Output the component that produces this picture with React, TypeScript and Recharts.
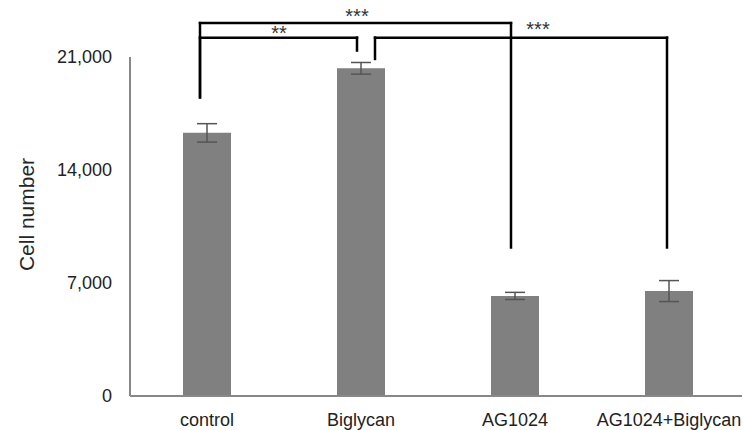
import { BarChart, Bar, XAxis, YAxis, ErrorBar, ReferenceLine } from "recharts";

const groups = ["control", "Biglycan", "AG1024", "AG1024+Biglycan"];
const cellCounts = [16300, 20300, 6200, 6500];
const cellErrors = [570, 360, 220, 650];
const yTicks = [0, 7000, 14000, 21000];

// significance brackets, heights in cell-number units
const brackets = [
    { from: "control", to: "AG1024", top: 23100, fromEnd: 18500, toEnd: 9200, mark: "***" },
    { from: "control", to: "Biglycan", top: 22200, fromEnd: 18500, toEnd: 21400, mark: "**" },
    { from: "Biglycan", to: "AG1024+Biglycan", top: 22200, fromEnd: 20880, toEnd: 9200, mark: "***" },
];
// pixel nudges: the legs in the original are not exactly on the bar centres
const bracketNudge = [
    { fromDx: -7, toDx: -4, labelDx: -4, labelOffset: 0 },
    { fromDx: -7, toDx: -4, labelDx: -5, labelOffset: -2 },
    { fromDx: 14, toDx: -2, labelDx: 23, labelOffset: 2 },
];

const FONT = "'Liberation Sans', Arial, sans-serif";

const chartData = groups.map((g, i) => ({ group: g, cells: cellCounts[i], err: cellErrors[i] }));

const bracketLine = (dx1: number, dx2: number) => (p: any) => (
    <line
        x1={p.x1 + dx1}
        y1={p.y1}
        x2={p.x2 + dx2}
        y2={p.y2}
        stroke="#000"
        strokeWidth={2.5}
        strokeLinecap="square"
    />
);

function renderBracket(b: (typeof brackets)[number], i: number) {
    const n = bracketNudge[i];
    return [
        <ReferenceLine
            key={`l${i}`}
            ifOverflow="visible"
            segment={[{ x: b.from, y: b.fromEnd }, { x: b.from, y: b.top }]}
            shape={bracketLine(n.fromDx, n.fromDx)}
        />,
        <ReferenceLine
            key={`h${i}`}
            ifOverflow="visible"
            segment={[{ x: b.from, y: b.top }, { x: b.to, y: b.top }]}
            shape={bracketLine(n.fromDx, n.toDx)}
            label={{
                content: (lp: any) => {
                    const vb = lp.viewBox;
                    return (
                        <text
                            x={vb.x + vb.width / 2 + n.labelDx}
                            y={vb.y - n.labelOffset}
                            textAnchor="middle"
                            fontSize={20}
                            fontFamily={FONT}
                            fill="#333"
                        >
                            {b.mark}
                        </text>
                    );
                },
            }}
        />,
        <ReferenceLine
            key={`r${i}`}
            ifOverflow="visible"
            segment={[{ x: b.to, y: b.top }, { x: b.to, y: b.toEnd }]}
            shape={bracketLine(n.toDx, n.toDx)}
        />,
    ];
}

export default function App() {
    return (
        <div style={{ position: "absolute", left: 0, top: 0, width: 742, height: 430, overflow: "hidden", background: "#fff" }}>
            <BarChart width={750} height={430} data={chartData} margin={{ top: 57, right: 4, bottom: 0, left: 0 }}>
                <XAxis
                    dataKey="group"
                    height={34}
                    interval={0}
                    tickLine={false}
                    tickMargin={11}
                    axisLine={{ stroke: "#888", strokeWidth: 2 }}
                    tick={{ fontSize: 18, fill: "#222", fontFamily: FONT }}
                />
                <YAxis
                    width={130}
                    domain={[0, 21000]}
                    ticks={yTicks}
                    tickLine={false}
                    tickMargin={12}
                    axisLine={{ stroke: "#888", strokeWidth: 2 }}
                    tick={{ fontSize: 18, fill: "#222", fontFamily: FONT }}
                    tickFormatter={(v) => v.toLocaleString("en-US")}
                    label={{
                        content: (lp: any) => {
                            const vb = lp.viewBox;
                            const x = vb.x + 26;
                            const y = vb.y + vb.height / 2 - 12;
                            return (
                                <text
                                    x={x}
                                    y={y}
                                    transform={`rotate(-90, ${x}, ${y})`}
                                    textAnchor="middle"
                                    dominantBaseline="central"
                                    fontSize={21}
                                    fontFamily={FONT}
                                    fill="#262626"
                                >
                                    Cell number
                                </text>
                            );
                        },
                    }}
                />
                <Bar dataKey="cells" fill="#808080" barSize={48} isAnimationActive={false}>
                    <ErrorBar dataKey="err" width={10} stroke="#555" strokeWidth={1.5} />
                </Bar>
                {brackets.flatMap((b, i) => renderBracket(b, i))}
            </BarChart>
        </div>
    );
}
